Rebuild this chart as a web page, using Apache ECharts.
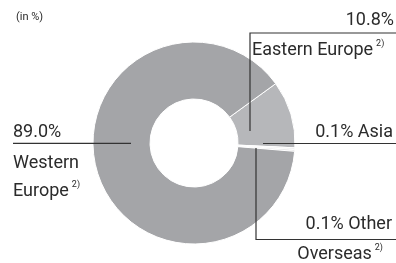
<!DOCTYPE html>
<html>
<head>
<meta charset="utf-8">
<script src="https://cdn.jsdelivr.net/npm/echarts@6/dist/echarts.min.js"></script>
<style>
  html, body { margin: 0; padding: 0; background: #fff; }
  #main { width: 396px; height: 263px; }
</style>
</head>
<body>
<div id="main"></div>
<script>
// slices in drawing order (clockwise from the start angle)
const regions = ['Eastern Europe', 'Asia', 'Other Overseas', 'Western Europe'];
const shares = [10.8, 0.1, 0.1, 89.0];
const sliceColors = ['#b6b7ba', '#f0f0f1', '#dedee0', '#a4a5a8'];
const unitNote = '(in %)';

const ink = '#2b2b2b';
const font = 'Roboto';

// where each label and its leader line go
const labelSpots = [
    { x: 252, y: 6, align: 'left', verticalAlign: 'top',
      line: [[250, 131], [250, 33], [396, 33]] },
    { x: 393, y: 132, align: 'right', verticalAlign: 'middle',
      line: [[263, 143.5], [330, 143.5], [396, 143.5]] },
    { x: 392, y: 210, align: 'right', verticalAlign: 'top',
      line: [[256, 148], [256, 239.5], [396, 239.5]] },
    { x: 13, y: 115.5, align: 'left', verticalAlign: 'top',
      line: [[131, 143.3], [70, 143.3], [13, 143.3]] }
];

function pct(v) {
    return v.toFixed(1) + '%';
}

const labelText = [
    (i) => '{pct|' + pct(shares[i]) + '}\n{name|' + regions[i] + '}{sup|2)}',
    (i) => '{one|' + pct(shares[i]) + ' ' + regions[i] + '}',
    (i) => {
        const [a, b] = regions[i].split(' ');
        return '{r|' + pct(shares[i]) + ' ' + a + '}\n{r|' + b + '}{sup2|2)}';
    },
    (i) => {
        const [a, b] = regions[i].split(' ');
        return '{top|' + pct(shares[i]) + '}\n{name|' + a + '}\n{name|' + b + '}{sup|2)}';
    }
];

const labelWidth = [142, null, 120, 120];
const lineHeights = [29.5, 20, 29.5, 28];

let chart = echarts.init(document.getElementById('main'));

const pieBase = {
    type: 'pie',
    center: [194, 143],
    radius: [44, 101],
    startAngle: 36,
    clockwise: true,
    minAngle: 1,
    avoidLabelOverlap: false,
    silent: true
};

// the slices themselves
let sliceData = regions.map((name, i) => ({
    name: name,
    value: shares[i],
    itemStyle: { color: sliceColors[i] }
}));

// same slices again, invisible, only to carry labels and leader lines on top
let labelData = regions.map((name, i) => ({
    name: name,
    value: shares[i],
    label: {
        formatter: labelText[i](i),
        width: labelWidth[i] || undefined,
        lineHeight: lineHeights[i]
    }
}));

let option = {
    animation: false,
    title: {
        text: unitNote,
        left: 11,
        top: 7,
        textStyle: { fontFamily: font, fontSize: 11, fontWeight: 'normal', color: ink }
    },
    series: [
        Object.assign({}, pieBase, {
            z: 2,
            itemStyle: { borderColor: '#fff', borderWidth: 1 },
            label: { show: false },
            labelLine: { show: false },
            data: sliceData
        }),
        Object.assign({}, pieBase, {
            z: 5,
            itemStyle: { color: 'rgba(0,0,0,0)', borderWidth: 0 },
            label: {
                show: true,
                position: 'outside',
                color: ink,
                fontFamily: font,
                fontSize: 18,
                rich: {
                    pct: { fontFamily: font, fontSize: 18, color: ink, align: 'right', lineHeight: 29.5 },
                    name: { fontFamily: font, fontSize: 18, color: ink, align: 'left', lineHeight: 28 },
                    top: { fontFamily: font, fontSize: 18, color: ink, align: 'left', lineHeight: 34 },
                    one: { fontFamily: font, fontSize: 18, color: ink },
                    r: { fontFamily: font, fontSize: 18, color: ink, align: 'right', lineHeight: 29.5 },
                    sup: { fontFamily: font, fontSize: 9, color: ink, align: 'left', padding: [0, 0, 13, 3] },
                    sup2: { fontFamily: font, fontSize: 9, color: ink, align: 'right', padding: [0, 9, 13, 3] }
                }
            },
            labelLine: {
                show: true,
                lineStyle: { color: '#333', width: 1.2 }
            },
            labelLayout: function (params) {
                const s = labelSpots[params.dataIndex];
                return {
                    x: s.x,
                    y: s.y,
                    align: s.align,
                    verticalAlign: s.verticalAlign,
                    labelLinePoints: s.line
                };
            },
            data: labelData
        })
    ]
};

chart.setOption(option);
</script>
</body>
</html>
